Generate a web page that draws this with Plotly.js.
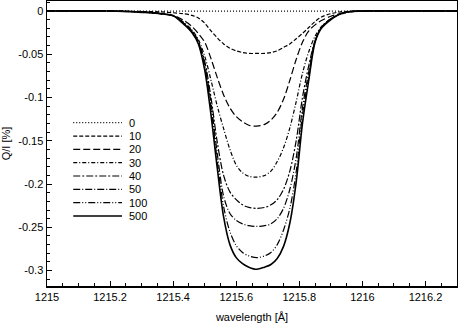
<!DOCTYPE html>
<html>
<head>
<meta charset="utf-8">
<script src="https://cdn.plot.ly/plotly-3.0.1.min.js"></script>
<style>
  html, body { margin: 0; padding: 0; background: #ffffff; }
  #plot { width: 458px; height: 323px; }
</style>
</head>
<body>
<div id="plot"></div>
<script>
// series labels (legend order)
const seriesNames = ['0', '10', '20', '30', '40', '50', '100', '500'];

// wavelength grid [Å] shared by all profiles
const wavelength = [
  1215.0, 1215.2, 1215.3, 1215.36, 1215.4, 1215.43, 1215.46, 1215.48,
  1215.5, 1215.52, 1215.54, 1215.56, 1215.58, 1215.6, 1215.62, 1215.64,
  1215.665, 1215.69, 1215.71, 1215.73, 1215.75, 1215.77, 1215.79, 1215.81,
  1215.83, 1215.85, 1215.87, 1215.9, 1215.93, 1215.96, 1216.0, 1216.3,
];

// Q/I [%]
const q0 = [
  0, 0, 0, 0, 0, 0, 0, 0, 0, 0, 0, 0, 0, 0, 0, 0,
  0, 0, 0, 0, 0, 0, 0, 0, 0, 0, 0, 0, 0, 0, 0, 0,
];
const q10 = [
  0, 0, -0.0005, -0.001, -0.002, -0.003, -0.005, -0.008,
  -0.014, -0.023, -0.031, -0.038, -0.043, -0.046, -0.048, -0.049,
  -0.049, -0.049, -0.048, -0.046, -0.042, -0.038, -0.032, -0.026,
  -0.019, -0.012, -0.007, -0.003, -0.001, -0.0003, 0, 0,
];
const q20 = [
  0, 0, -0.001, -0.003, -0.005, -0.010, -0.018, -0.026,
  -0.036, -0.055, -0.077, -0.097, -0.112, -0.122, -0.128, -0.132,
  -0.133, -0.131, -0.126, -0.117, -0.102, -0.080, -0.056, -0.036,
  -0.023, -0.016, -0.011, -0.006, -0.003, -0.0008, 0, 0,
];
const q30 = [
  0, 0, -0.001, -0.003, -0.0055, -0.012, -0.022, -0.033,
  -0.052, -0.080, -0.110, -0.136, -0.160, -0.178, -0.187, -0.191,
  -0.192, -0.190, -0.185, -0.174, -0.158, -0.135, -0.105, -0.072,
  -0.047, -0.029, -0.018, -0.009, -0.004, -0.001, 0, 0,
];
const q40 = [
  0, 0, -0.001, -0.003, -0.0055, -0.013, -0.023, -0.035,
  -0.058, -0.100, -0.152, -0.190, -0.209, -0.218, -0.224, -0.227,
  -0.228, -0.227, -0.224, -0.218, -0.206, -0.185, -0.150, -0.100,
  -0.063, -0.034, -0.019, -0.009, -0.0035, -0.0008, 0, 0,
];
const q50 = [
  0, 0, -0.0012, -0.003, -0.0055, -0.013, -0.024, -0.036,
  -0.062, -0.106, -0.165, -0.214, -0.234, -0.242, -0.246, -0.248,
  -0.249, -0.248, -0.246, -0.240, -0.228, -0.206, -0.170, -0.112,
  -0.070, -0.035, -0.019, -0.009, -0.0035, -0.0008, 0, 0,
];
const q100 = [
  0, 0, -0.0013, -0.003, -0.0055, -0.013, -0.024, -0.037,
  -0.065, -0.112, -0.174, -0.226, -0.255, -0.271, -0.279, -0.283,
  -0.285, -0.283, -0.279, -0.270, -0.253, -0.228, -0.186, -0.120,
  -0.076, -0.035, -0.019, -0.0095, -0.0035, -0.0008, 0, 0,
];
const q500 = [
  0, 0, -0.0015, -0.003, -0.0055, -0.014, -0.025, -0.038,
  -0.068, -0.120, -0.182, -0.238, -0.270, -0.285, -0.292, -0.296,
  -0.2985, -0.296, -0.293, -0.286, -0.272, -0.245, -0.198, -0.130,
  -0.080, -0.036, -0.020, -0.010, -0.003, -0.0005, 0, 0,
];
const seriesValues = [q0, q10, q20, q30, q40, q50, q100, q500];

// tick labels
const xTickVals = [1215, 1215.2, 1215.4, 1215.6, 1215.8, 1216, 1216.2];
const xTickText = ['1215', '1215.2', '1215.4', '1215.6', '1215.8', '1216', '1216.2'];
const yTickVals = [0, -0.05, -0.1, -0.15, -0.2, -0.25, -0.3];
const yTickText = ['0', '-0.05', '-0.1', '-0.15', '-0.2', '-0.25', '-0.3'];

// line styles per series
const dashes = [
  '1px,2px',
  '4px,2px',
  '7px,3px',
  '4px,2px,1px,2px',
  '7px,2px,2px,2px',
  '7px,2px,1px,2px',
  '7px,2px,1px,2px,1px,2px',
  'solid',
];

const black = '#000000';
const font = { family: 'Liberation Sans, Arial, sans-serif', size: 11, color: black };
const plotTop = 1;
const plotBottom = 286;
const legendFirstRow = 122.7;
const legendRowStep = 13.33;

const traces = seriesNames.map((name, i) => ({
  x: wavelength,
  y: seriesValues[i],
  name,
  type: 'scatter',
  mode: 'lines',
  line: {
    color: black,
    width: i === seriesNames.length - 1 ? 1.6 : 1.2,
    dash: dashes[i],
    shape: 'spline',
    smoothing: 0.9,
  },
  showlegend: false,
}));

// hand-drawn legend box, as in the original figure
const shapes = [];
const annotations = [];
seriesNames.forEach((name, i) => {
  const ypx = legendFirstRow + i * legendRowStep;
  const y = (plotBottom - ypx) / (plotBottom - plotTop);
  shapes.push({
    type: 'line',
    xref: 'paper',
    yref: 'paper',
    x0: 0.064,
    x1: 0.183,
    y0: y,
    y1: y,
    line: { color: black, width: i === seriesNames.length - 1 ? 1.6 : 1.2, dash: dashes[i] },
  });
  annotations.push({
    xref: 'paper',
    yref: 'paper',
    x: 0.196,
    y,
    xanchor: 'left',
    yanchor: 'middle',
    text: name,
    showarrow: false,
    font: { family: font.family, size: 11, color: black },
  });
});

const axisStyle = {
  showline: true,
  mirror: true,
  linecolor: black,
  linewidth: 1.5,
  showgrid: false,
  zeroline: false,
  ticks: 'inside',
  ticklen: 5,
  tickwidth: 1,
  tickcolor: black,
  tickmode: 'array',
  tickfont: { family: font.family, size: 11, color: black },
};

const layout = {
  width: 458,
  height: 323,
  margin: { l: 47, r: 1, t: plotTop, b: 323 - plotBottom },
  paper_bgcolor: '#ffffff',
  plot_bgcolor: '#ffffff',
  font,
  showlegend: false,
  xaxis: Object.assign({}, axisStyle, {
    range: [1215, 1216.3],
    tickvals: xTickVals,
    ticktext: xTickText,
    minor: { tickmode: 'linear', tick0: 1215, dtick: 0.05, ticks: 'inside', ticklen: 3, tickcolor: black },
    title: { text: 'wavelength [Å]', font: { family: font.family, size: 11, color: black }, standoff: 12 },
  }),
  yaxis: Object.assign({}, axisStyle, {
    range: [-0.3178, 0.0116],
    tickvals: yTickVals,
    ticktext: yTickText,
    minor: { tickmode: 'linear', tick0: 0, dtick: 0.01, ticks: 'inside', ticklen: 3, tickcolor: black },
    title: { text: 'Q/I [%]', font: { family: font.family, size: 11, color: black }, standoff: 7 },
  }),
  shapes,
  annotations,
};

Plotly.newPlot('plot', traces, layout, { displayModeBar: false, staticPlot: true });
</script>
</body>
</html>
